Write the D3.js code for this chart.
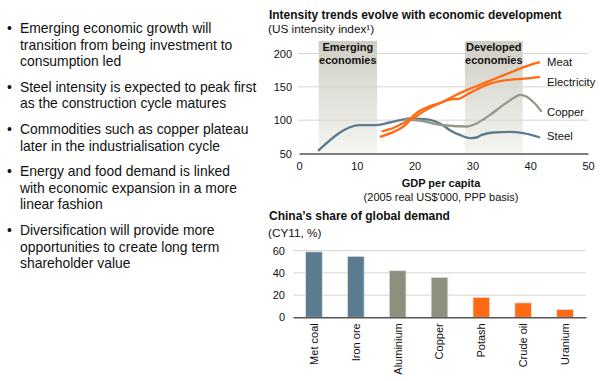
<!doctype html>
<html lang="en">
<head>
<meta charset="UTF-8" />
<title>Intensity trends</title>
<script src="https://d3js.org/d3.v7.min.js"></script>
<style>
  body, html { margin: 0; padding: 0; background: #fff; }
  svg { display: block; font-family: "Liberation Sans", Arial, sans-serif; }
</style>
</head>
<body>
<svg id="chart" width="611" height="381"></svg>
<script>
  // bullet text
  const bullets = [
    ["Emerging economic growth will", "transition from being investment to", "consumption led"],
    ["Steel intensity is expected to peak first", "as the construction cycle matures"],
    ["Commodities such as copper plateau", "later in the industrialisation cycle"],
    ["Energy and food demand is linked", "with economic expansion in a more", "linear fashion"],
    ["Diversification will provide more", "opportunities to create long term", "shareholder value"]
  ];

  // line chart data: [GDP per capita ('000), intensity index]
  const steel = [[3.3, 54], [10.5, 92.5], [13.4, 92.7], [15.7, 96.5], [17.5, 100], [19.2, 102.5],
    [20.9, 102], [22.7, 100.5], [24.4, 95], [26.1, 85], [27.9, 77.5], [29.6, 73], [30.7, 74],
    [31.5, 77.5], [33.6, 81.5], [36.5, 82.5], [38.8, 80.5], [41.7, 74]];
  const copper = [[18.3, 101], [20.9, 99.5], [23.2, 95], [25.6, 92], [29, 90.5], [30.7, 95],
    [33, 107.5], [35.3, 122.5], [37.5, 135], [38.3, 138], [39.4, 135], [40.8, 125], [42, 112.5]];
  const meat = [[14.3, 83], [16.5, 89], [18.6, 98], [20, 104], [21.5, 113], [23, 120], [25, 128],
    [27, 137], [29, 145], [31, 152], [33, 159], [35, 166], [37, 173], [39, 180], [41.7, 187]];
  const electricity = [[14, 75], [16, 81], [18, 90], [18.8, 96], [19.5, 104], [20.7, 113],
    [22.7, 121], [24.5, 126], [26.1, 131], [27.6, 132], [28.8, 137], [30.5, 145], [32.5, 153],
    [34.5, 158], [36.5, 160.5], [38.5, 162], [41.7, 165]];
  const seriesNames = ["Steel", "Copper", "Electricity", "Meat"];
  const labelValues = [76, 112, 157, 187];
  const zones = [["Emerging", "economies", 3.4, 13.5], ["Developed", "economies", 28.7, 38.7]];
  const xTicks = [0, 10, 20, 30, 40, 50];
  const yTicks = [50, 100, 150, 200];

  // bar chart data
  const commodities = ["Met coal", "Iron ore", "Aluminium", "Copper", "Potash", "Crude oil", "Uranium"];
  const shares = [59, 55, 42, 36, 18, 13, 7];
  const groups = ["bulk", "bulk", "metal", "metal", "energy", "energy", "energy"];
  const barTicks = [0, 20, 40, 60];

  const svg = d3.select("#chart");
  const blue = "#5b7b91", grey = "#8f8f7e", orange = "#ff6a13";
  const colors = { Steel: blue, Copper: "#979788", Electricity: orange, Meat: orange };
  const barColors = { bulk: blue, metal: grey, energy: orange };

  // ---- bullets
  const bl = svg.append("g").attr("font-size", 13.9).attr("fill", "#111");
  let by = 33;
  bullets.forEach(lines => {
    bl.append("text").attr("x", 7).attr("y", by).text("•");
    lines.forEach((ln, i) => {
      bl.append("text").attr("x", 20).attr("y", by + i * 16.6).text(ln);
    });
    by += lines.length * 16.6 + 9;
  });

  // ---- line chart
  const x = d3.scaleLinear().domain([0, 50]).range([299, 588]);
  const y = d3.scaleLinear().domain([50, 200]).range([153.5, 53.5]);

  svg.append("text").attr("x", 269).attr("y", 19).attr("font-size", 11.95)
    .attr("font-weight", "bold").attr("fill", "#111").text("Intensity trends evolve with economic development");
  svg.append("text").attr("x", 268).attr("y", 33).attr("font-size", 11.8).attr("fill", "#111")
    .text("(US intensity index¹)");

  const defs = svg.append("defs");
  const grad = defs.append("linearGradient").attr("id", "shade")
    .attr("x1", 0).attr("y1", 0).attr("x2", 0).attr("y2", 1);
  grad.append("stop").attr("offset", "0%").attr("stop-color", "#cdcdc3");
  grad.append("stop").attr("offset", "100%").attr("stop-color", "#f6f6f2");

  zones.forEach(z => {
    svg.append("rect").attr("x", x(z[2])).attr("y", 41)
      .attr("width", x(z[3]) - x(z[2])).attr("height", y(50) - 41).attr("fill", "url(#shade)");
    const cx = (x(z[2]) + x(z[3])) / 2;
    svg.append("text").attr("x", cx).attr("y", 51).attr("text-anchor", "middle")
      .attr("font-size", 11).attr("font-weight", "bold").attr("fill", "#111").text(z[0]);
    svg.append("text").attr("x", cx).attr("y", 64).attr("text-anchor", "middle")
      .attr("font-size", 11).attr("font-weight", "bold").attr("fill", "#111").text(z[1]);
  });

  svg.append("g").selectAll("line").data(yTicks.slice(1)).join("line")
    .attr("x1", x(0) - 1).attr("x2", x(50)).attr("y1", d => y(d)).attr("y2", d => y(d))
    .attr("stroke", "#d6d6ce").attr("stroke-width", 1);

  const xAxis = svg.append("g").attr("transform", `translate(0,${y(50)})`)
    .call(d3.axisBottom(x).tickValues(xTicks).tickSize(0).tickPadding(9));
  xAxis.select(".domain").attr("stroke", "#555").attr("stroke-width", 1.5);
  xAxis.selectAll("text").attr("font-size", 11).attr("fill", "#111").attr("font-family", null);

  const yAxis = svg.append("g").attr("transform", `translate(${x(0) - 7},0)`)
    .call(d3.axisLeft(y).tickValues(yTicks).tickSize(0).tickPadding(0));
  yAxis.select(".domain").remove();
  yAxis.selectAll("text").attr("font-size", 11).attr("fill", "#111").attr("font-family", null);

  svg.append("text").attr("x", 441).attr("y", 187).attr("text-anchor", "middle")
    .attr("font-size", 11).attr("font-weight", "bold").attr("fill", "#111").text("GDP per capita");
  svg.append("text").attr("x", 441).attr("y", 201).attr("text-anchor", "middle")
    .attr("font-size", 11).attr("fill", "#111").text("(2005 real US$'000, PPP basis)");

  const line = d3.line().x(d => x(d[0])).y(d => y(d[1])).curve(d3.curveMonotoneX);
  const seriesData = { Steel: steel, Copper: copper, Electricity: electricity, Meat: meat };
  seriesNames.forEach(n => {
    svg.append("path").datum(seriesData[n]).attr("d", line).attr("fill", "none")
      .attr("stroke", colors[n]).attr("stroke-width", 2.3).attr("stroke-linejoin", "round");
  });

  seriesNames.forEach((n, i) => {
    svg.append("text").attr("x", 547).attr("y", y(labelValues[i])).attr("dy", "0.35em")
      .attr("font-size", 11.3).attr("fill", "#111").text(n);
  });

  // ---- bar chart
  svg.append("text").attr("x", 269).attr("y", 220).attr("font-size", 12)
    .attr("font-weight", "bold").attr("fill", "#111").text("China’s share of global demand");
  svg.append("text").attr("x", 268).attr("y", 237).attr("font-size", 11.8).attr("fill", "#111")
    .text("(CY11, %)");

  const bx = d3.scaleBand().domain(commodities).range([293, 586]).paddingInner(0.6).paddingOuter(0.3);
  const byS = d3.scaleLinear().domain([0, 60]).range([317.3, 250.7]);

  svg.append("g").selectAll("line").data(barTicks.slice(1)).join("line")
    .attr("x1", 293).attr("x2", 586).attr("y1", d => byS(d)).attr("y2", d => byS(d))
    .attr("stroke", "#d6d6ce");

  svg.append("g").selectAll("rect").data(commodities).join("rect")
    .attr("x", d => bx(d)).attr("width", bx.bandwidth())
    .attr("y", (d, i) => byS(shares[i])).attr("height", (d, i) => byS(0) - byS(shares[i]))
    .attr("fill", (d, i) => barColors[groups[i]])
    .attr("stroke", "#e4e4e0").attr("stroke-width", 0.8);

  const bAxis = svg.append("g").attr("transform", `translate(0,${byS(0)})`)
    .call(d3.axisBottom(bx).tickSize(0).tickPadding(0));
  bAxis.select(".domain").attr("stroke", "#555").attr("stroke-width", 1.5);
  bAxis.selectAll("text").attr("font-size", 11).attr("fill", "#111").attr("font-family", null)
    .attr("transform", "rotate(-90)").attr("text-anchor", "end")
    .attr("x", -6).attr("y", 0).attr("dy", "0.35em");

  const bYAxis = svg.append("g").attr("transform", "translate(285,0)")
    .call(d3.axisLeft(byS).tickValues(barTicks).tickSize(0).tickPadding(0));
  bYAxis.select(".domain").remove();
  bYAxis.selectAll("text").attr("font-size", 11).attr("fill", "#111").attr("font-family", null);
</script>
</body>
</html>
